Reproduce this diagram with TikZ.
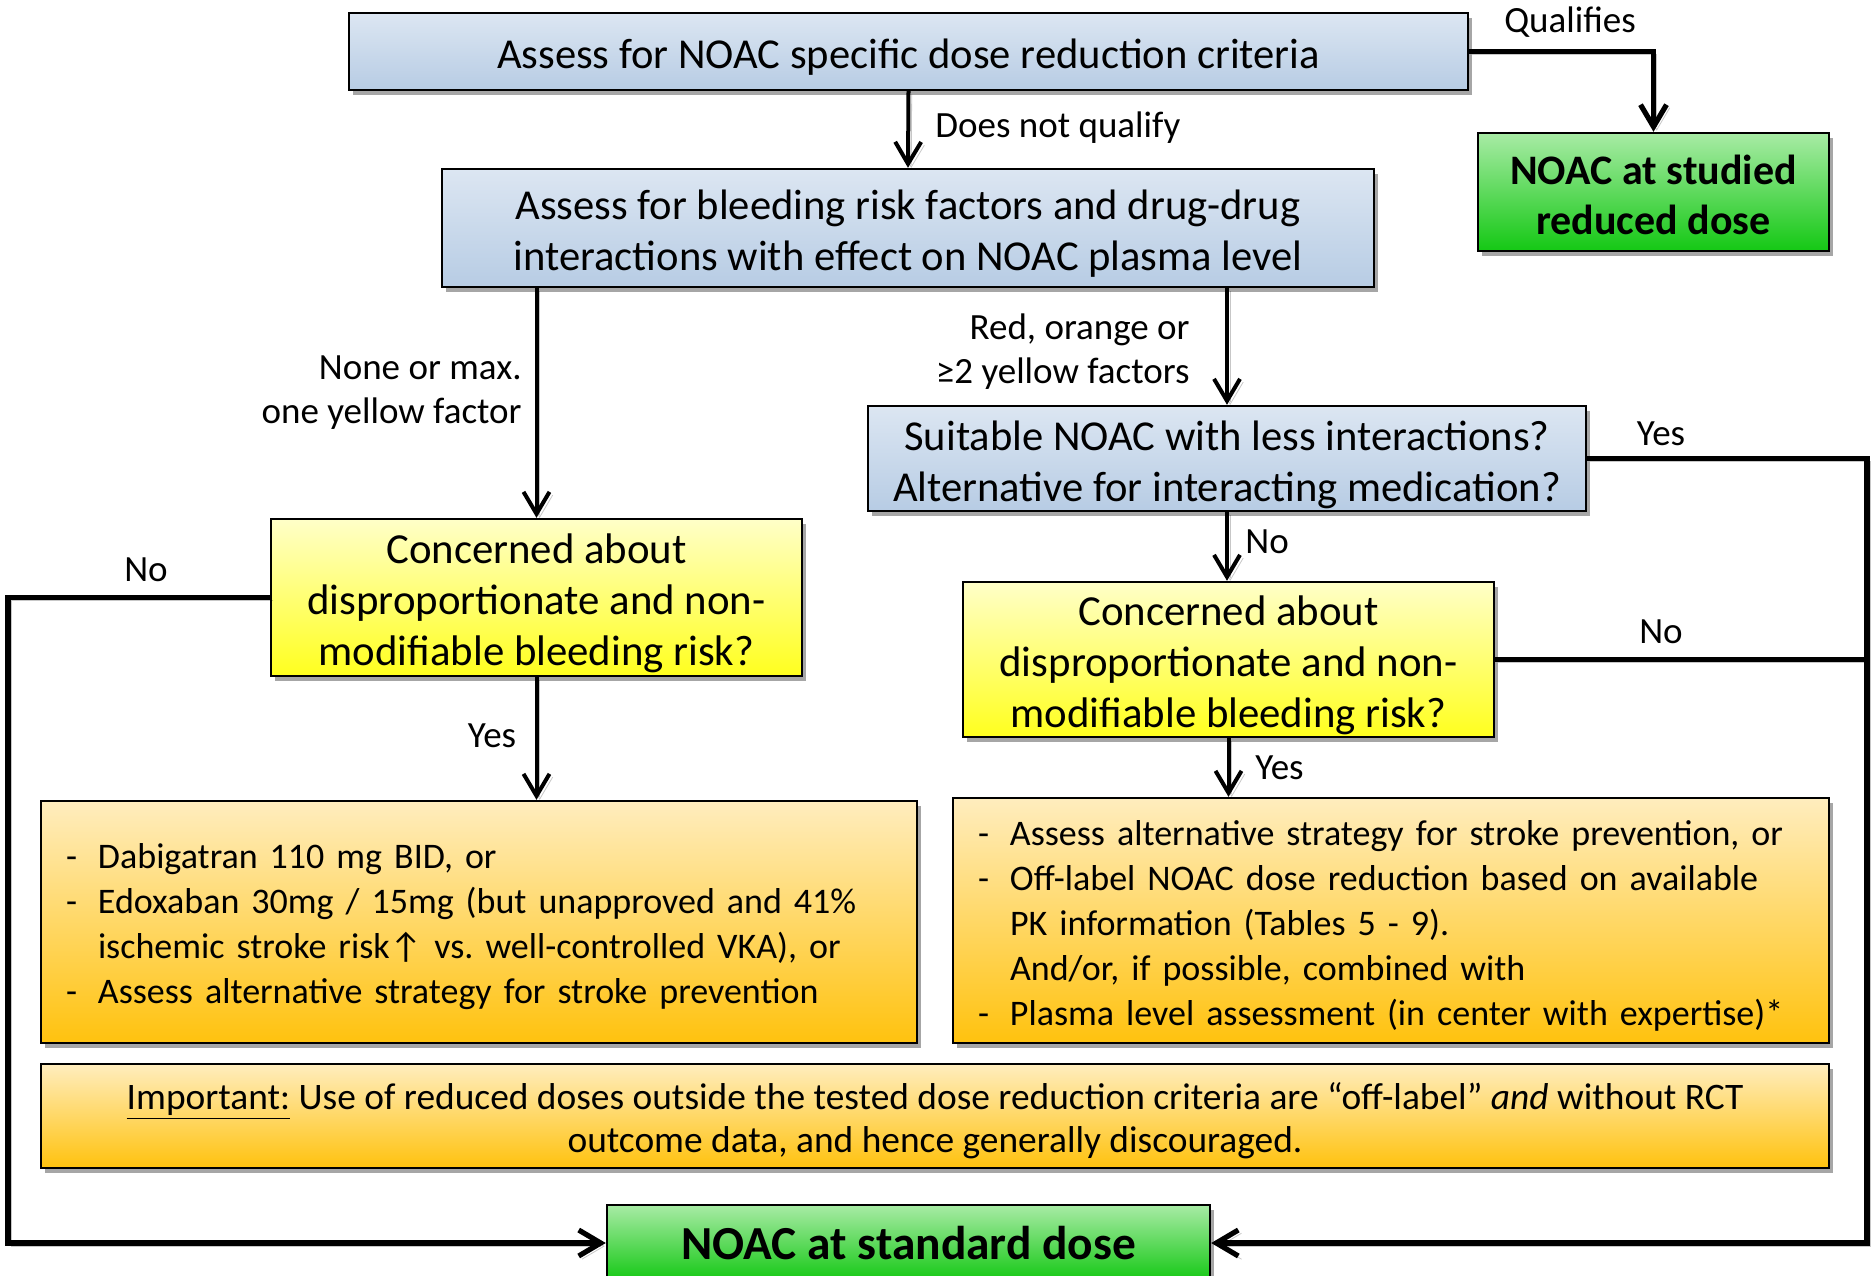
\documentclass[tikz,border=0pt]{standalone}
\usepackage{fontspec}
\setmainfont{Carlito}
\usetikzlibrary{arrows.meta,shadows}
\definecolor{blueT}{HTML}{DCE6F2}
\definecolor{blueB}{HTML}{B7CCE4}
\definecolor{greenT}{HTML}{A8EBA5}
\definecolor{greenB}{HTML}{14C814}
\definecolor{yelT}{HTML}{FFFFC8}
\definecolor{yelB}{HTML}{FFFF1E}
\definecolor{orT}{HTML}{FFEDBE}
\definecolor{orM}{HTML}{FFE49A}
\definecolor{orB}{HTML}{FFC20E}
\tikzset{
  box/.style={draw=black, line width=1.2pt, align=center, inner sep=0pt,
    drop shadow={shadow xshift=2pt, shadow yshift=-2.5pt, opacity=0.35, fill=black}},
  bluebox/.style={box, top color=blueT, bottom color=blueB, font=\frenchspacing\fontsize{21.3}{25.5}\selectfont},
  yelbox/.style={box, top color=yelT, bottom color=yelB, font=\frenchspacing\fontsize{21.4}{25.5}\selectfont},
  greenbox/.style={box, top color=greenT, bottom color=greenB},
  orbox/.style={box, top color=orT, middle color=orM, bottom color=orB, align=left,
    inner xsep=12.5pt, font=\frenchspacing\fontsize{18}{22.5}\selectfont},
  lbl/.style={inner sep=0pt, font=\fontsize{18.5}{22}\selectfont},
  lshadow/.style={preaction={draw=black, opacity=0.22, transform canvas={shift={(1.6pt,-1.6pt)}}}},
  conn/.style={line width=2pt, lshadow},
  arr/.style={conn, -{Straight Barb[length=11pt,width=13pt]}},
  thick conn/.style={line width=2.6pt, lshadow},
  thick arr/.style={thick conn, -{Straight Barb[length=11pt,width=13pt]}},
}
\newcommand{\dashitem}{\makebox[16pt][l]{-}}
\newcommand{\noitem}{\hspace*{16pt}}
\newcommand{\tp}{\rule{0pt}{0.97em}}
\newcommand{\tpg}{\rule{0pt}{0.84em}}
\begin{document}
\begin{tikzpicture}[x=0.5pt,y=-0.5pt]
\clip (0,0) rectangle (1874,1275);
\fill[white] (0,0) rectangle (1874,1275);

% boxes
\node[bluebox, minimum width=559.5pt, minimum height=38.5pt] (b1) at (908.5,51.5)
  {\tp Assess for NOAC specific dose reduction criteria};
\node[greenbox, minimum width=175.5pt, minimum height=59pt,
  font=\bfseries\fontsize{21}{25}\selectfont] (gq) at (1653.5,192)
  {\tpg NOAC at studied\\reduced dose};
\node[bluebox, minimum width=466pt, minimum height=59pt] (b2) at (908,228)
  {\tp Assess for bleeding risk factors and drug-drug\\interactions with effect on NOAC plasma level};
\node[bluebox, minimum width=359pt, minimum height=52.5pt] (b3) at (1227,458.5)
  {\tp Suitable NOAC with less interactions?\\Alternative for interacting medication?};
\node[yelbox, minimum width=265.5pt, minimum height=78.5pt] (y1) at (536.5,597.5)
  {\tp Concerned about\\disproportionate and non-\\modifiable bleeding risk?};
\node[yelbox, minimum width=265.5pt, minimum height=77.5pt] (y2) at (1228.5,659.5)
  {\tp Concerned about\\disproportionate and non-\\modifiable bleeding risk?};
\node[orbox, text width=413pt, minimum height=121pt] (o1) at (479,922)
  {\tp\dashitem Dabigatran 110 mg BID, or\\
   \dashitem Edoxaban 30mg / 15mg (but unapproved and 41\%\\
   \noitem ischemic stroke risk↑ vs. well-controlled VKA), or\\
   \dashitem Assess alternative strategy for stroke prevention};
\node[orbox, text width=413pt, minimum height=122.5pt] (o2) at (1391,920.5)
  {\tp\dashitem Assess alternative strategy for stroke prevention, or\\
   \dashitem Off-label NOAC dose reduction based on available\\
   \noitem PK information (Tables 5 - 9).\\
   \noitem And/or, if possible, combined with\\
   \dashitem Plasma level assessment (in center with expertise)*};
\node[box, top color=orT, middle color=orM, bottom color=orB,
  minimum width=894pt, minimum height=52pt, font=\frenchspacing\fontsize{18.7}{21.5}\selectfont] (imp) at (935,1116)
  {\tp\underline{Important:} Use of reduced doses outside the tested dose reduction criteria are “off-label” \emph{and} without RCT\\
   outcome data, and hence generally discouraged.};
\node[greenbox, minimum width=301.5pt, minimum height=38pt,
  font=\bfseries\fontsize{23.7}{28}\selectfont] (std) at (908.5,1243)
  {NOAC at standard dose};

% helper coordinates
\coordinate (rc) at (1867,1243);
\coordinate (lc) at (8,1243);

% connectors
\draw[arr] (b1.south) -- (b2.north);
\node[lbl, anchor=west] (lq) at (935,128) {Does not qualify};
\draw[thick arr] (b1.east) -| (gq.north);
\node[lbl] (lqual) at (1570,22) {Qualifies};
\draw[arr] (b2.south -| y1.north) -- (y1.north);
\node[lbl, anchor=east, align=right] (lnone) at (522,393) {None or max.\\one yellow factor};
\draw[arr] (b2.south -| b3.north) -- (b3.north);
\node[lbl, anchor=east, align=right] (lred) at (1190,352) {Red, orange or\\≥2 yellow factors};
\draw[arr] (b3.south) -- (b3.south |- y2.north);
\node[lbl, anchor=west] (lno2) at (1245,542) {No};
\draw[arr] (y2.south) -- (y2.south |- o2.north);
\node[lbl, anchor=west] (lyes2) at (1255,768) {Yes};
\draw[arr] (y1.south) -- (y1.south |- o1.north);
\node[lbl] (lyes1) at (492,736) {Yes};
\draw[thick arr] (b3.east) -| (rc) -- (std.east);
\node[lbl] (lyes3) at (1661,434) {Yes};
\draw[thick conn] (y2.east) -- (y2.east -| rc);
\node[lbl] (lno3) at (1661,632) {No};
\draw[thick arr] (y1.west) -| (lc) -- (std.west);
\node[lbl] (lno1) at (146,570) {No};
\end{tikzpicture}
\end{document}
